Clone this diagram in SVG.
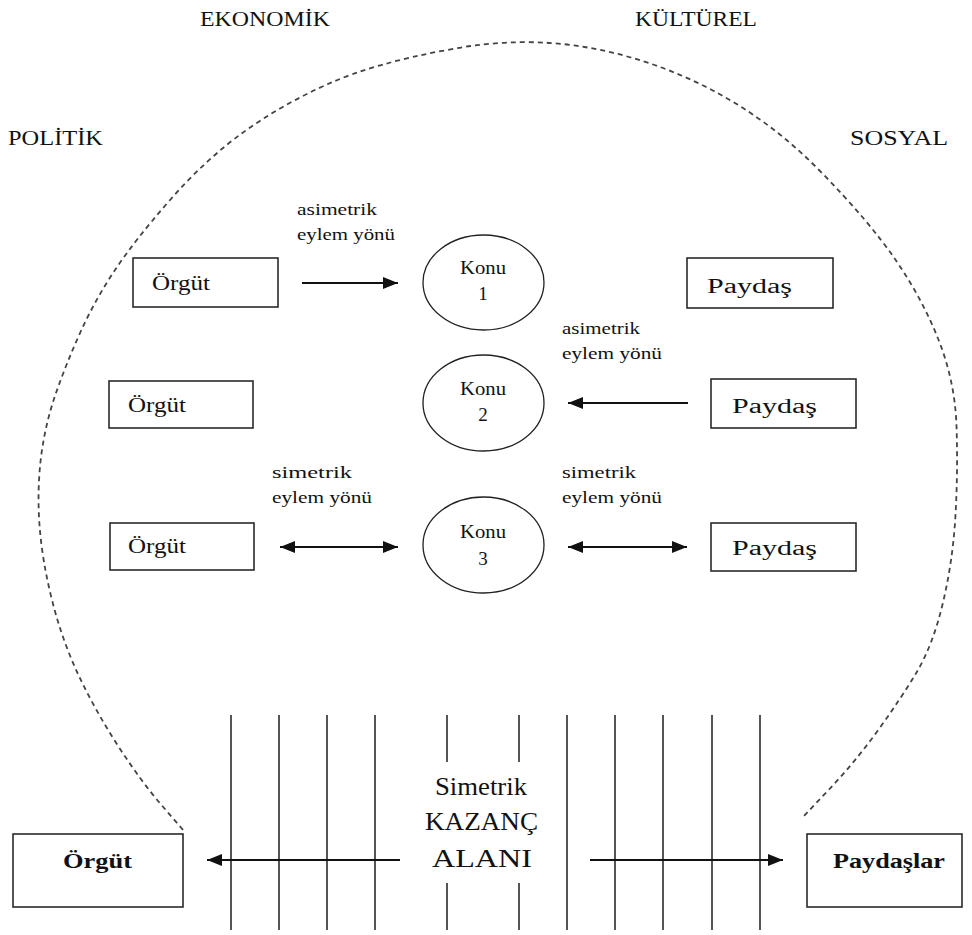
<svg xmlns="http://www.w3.org/2000/svg" width="972" height="935" viewBox="0 0 972 935">
  <style>
    text { font-family: "Liberation Serif", "Times New Roman", serif; fill: #111; }
    .dim { font-size: 21px; }
    .box { fill: #fff; stroke: #2a2a2a; stroke-width: 1.6; }
    .konu { fill: #fff; stroke: #222; stroke-width: 1.3; }
    .nm { font-size: 20px; }
    .lbl { font-size: 17px; }
    .kt { font-size: 19px; }
    .num { font-size: 19px; text-anchor: middle; }
    .bold { font-size: 22px; font-weight: bold; }
    .ctr { font-size: 25px; }
    .arr { stroke: #111; stroke-width: 2; fill: none; }
    .bar { stroke: #555; stroke-width: 2; }
    .env { fill: none; stroke: #444; stroke-width: 1.8; stroke-dasharray: 5 4; }
  </style>
  <defs>
    <marker id="ah" viewBox="0 0 15 12" refX="15" refY="6" markerWidth="15" markerHeight="12" markerUnits="userSpaceOnUse" orient="auto-start-reverse">
      <path d="M0,0 L15,6 L0,12 z" fill="#111"/>
    </marker>
  </defs>

  <rect width="972" height="935" fill="#fff"/>

  <!-- environment boundary -->
  <path class="env" d="M183,830 L161.5,805 Q140,780 117.5,745 Q95,710 78.5,675 Q62,640 52,600 Q42,560 39.5,525 Q37,490 41,457.5 Q45,425 55.5,394.5 Q66,364 80.5,332 Q95,300 115,270 Q135,240 170,200 Q205,160 243,132.5 Q281,105 328,84 Q375,63 447,50 Q519,36 584.5,47 Q650,58 710,89 Q770,120 819.5,170.5 Q869,221 896,260.5 Q923,300 939,341 Q955,382 956.5,426 Q958,470 955.5,515 Q953,560 943,602.5 Q933,645 916.5,672.5 Q900,700 877.5,731 Q855,762 829,789.5 L803,817"/>

  <!-- environment dimensions -->
  <g id="dimensions">
    <text class="dim" x="200" y="26" textLength="130" lengthAdjust="spacingAndGlyphs">EKONOMİK</text>
    <text class="dim" x="635" y="26" textLength="122" lengthAdjust="spacingAndGlyphs">KÜLTÜREL</text>
    <text class="dim" x="8" y="145" textLength="95" lengthAdjust="spacingAndGlyphs">POLİTİK</text>
    <text class="dim" x="850" y="145" textLength="98" lengthAdjust="spacingAndGlyphs">SOSYAL</text>
  </g>

  <!-- vertical bars of the gain zone -->
  <g id="gain-zone">
    <line class="bar" x1="231" y1="715" x2="231" y2="930"/>
    <line class="bar" x1="279" y1="715" x2="279" y2="930"/>
    <line class="bar" x1="327" y1="715" x2="327" y2="930"/>
    <line class="bar" x1="375" y1="715" x2="375" y2="930"/>
    <line class="bar" x1="447" y1="715" x2="447" y2="762"/>
    <line class="bar" x1="447" y1="883" x2="447" y2="930"/>
    <line class="bar" x1="519" y1="715" x2="519" y2="762"/>
    <line class="bar" x1="519" y1="883" x2="519" y2="930"/>
    <line class="bar" x1="567" y1="715" x2="567" y2="930"/>
    <line class="bar" x1="615" y1="715" x2="615" y2="930"/>
    <line class="bar" x1="663" y1="715" x2="663" y2="930"/>
    <line class="bar" x1="712" y1="715" x2="712" y2="930"/>
    <line class="bar" x1="760" y1="715" x2="760" y2="930"/>
    <text class="ctr" x="435" y="795" textLength="92" lengthAdjust="spacingAndGlyphs">Simetrik</text>
    <text class="ctr" x="425" y="830" textLength="113" lengthAdjust="spacingAndGlyphs">KAZANÇ</text>
    <text class="ctr" x="432" y="867" textLength="100" lengthAdjust="spacingAndGlyphs">ALANI</text>
  </g>

  <!-- connectors -->
  <g id="connectors">
    <line class="arr" x1="302" y1="283" x2="398" y2="283" marker-end="url(#ah)"/>
    <line class="arr" x1="688" y1="403" x2="568" y2="403" marker-end="url(#ah)"/>
    <line class="arr" x1="280" y1="547" x2="398" y2="547" marker-start="url(#ah)" marker-end="url(#ah)"/>
    <line class="arr" x1="568" y1="547" x2="687" y2="547" marker-start="url(#ah)" marker-end="url(#ah)"/>
    <line class="arr" x1="400" y1="860" x2="207" y2="860" marker-end="url(#ah)"/>
    <line class="arr" x1="590" y1="860" x2="783" y2="860" marker-end="url(#ah)"/>
    <text class="lbl" x="297" y="215" textLength="80" lengthAdjust="spacingAndGlyphs">asimetrik</text>
    <text class="lbl" x="297" y="240" textLength="98" lengthAdjust="spacingAndGlyphs">eylem yönü</text>
    <text class="lbl" x="562" y="334" textLength="78" lengthAdjust="spacingAndGlyphs">asimetrik</text>
    <text class="lbl" x="562" y="359" textLength="100" lengthAdjust="spacingAndGlyphs">eylem yönü</text>
    <text class="lbl" x="272" y="478" textLength="80" lengthAdjust="spacingAndGlyphs">simetrik</text>
    <text class="lbl" x="272" y="503" textLength="100" lengthAdjust="spacingAndGlyphs">eylem yönü</text>
    <text class="lbl" x="562" y="478" textLength="74" lengthAdjust="spacingAndGlyphs">simetrik</text>
    <text class="lbl" x="562" y="503" textLength="100" lengthAdjust="spacingAndGlyphs">eylem yönü</text>
  </g>

  <!-- organisations -->
  <g id="orgut-1">
    <rect class="box" x="133" y="258" width="145" height="49"/>
    <text class="nm" x="152" y="290" textLength="58" lengthAdjust="spacingAndGlyphs">Örgüt</text>
  </g>
  <g id="orgut-2">
    <rect class="box" x="109" y="381" width="144" height="47"/>
    <text class="nm" x="128" y="412" textLength="58" lengthAdjust="spacingAndGlyphs">Örgüt</text>
  </g>
  <g id="orgut-3">
    <rect class="box" x="110" y="523" width="144" height="47"/>
    <text class="nm" x="128" y="553" textLength="58" lengthAdjust="spacingAndGlyphs">Örgüt</text>
  </g>

  <!-- issues -->
  <g id="konu-1">
    <ellipse class="konu" cx="483.5" cy="282.5" rx="60.5" ry="47.5"/>
    <text class="kt" x="460" y="274" textLength="46" lengthAdjust="spacingAndGlyphs">Konu</text>
    <text class="num" x="483" y="300">1</text>
  </g>
  <g id="konu-2">
    <ellipse class="konu" cx="483.5" cy="403" rx="60.5" ry="48"/>
    <text class="kt" x="460" y="395" textLength="46" lengthAdjust="spacingAndGlyphs">Konu</text>
    <text class="num" x="483" y="421">2</text>
  </g>
  <g id="konu-3">
    <ellipse class="konu" cx="483.5" cy="545" rx="60.5" ry="48"/>
    <text class="kt" x="460" y="538" textLength="46" lengthAdjust="spacingAndGlyphs">Konu</text>
    <text class="num" x="483" y="565">3</text>
  </g>

  <!-- stakeholders -->
  <g id="paydas-1">
    <rect class="box" x="687" y="258" width="146" height="50"/>
    <text class="nm" x="707" y="293" textLength="85" lengthAdjust="spacingAndGlyphs">Paydaş</text>
  </g>
  <g id="paydas-2">
    <rect class="box" x="711" y="379" width="145" height="49"/>
    <text class="nm" x="732" y="413" textLength="85" lengthAdjust="spacingAndGlyphs">Paydaş</text>
  </g>
  <g id="paydas-3">
    <rect class="box" x="711" y="523" width="145" height="48"/>
    <text class="nm" x="732" y="555" textLength="85" lengthAdjust="spacingAndGlyphs">Paydaş</text>
  </g>

  <!-- parties of the gain zone -->
  <g id="orgut-main">
    <rect class="box" x="13" y="834" width="170" height="73"/>
    <text class="bold" x="63" y="868" textLength="69" lengthAdjust="spacingAndGlyphs">Örgüt</text>
  </g>
  <g id="paydaslar-main">
    <rect class="box" x="807" y="834" width="155" height="73"/>
    <text class="bold" x="833" y="868" textLength="112" lengthAdjust="spacingAndGlyphs">Paydaşlar</text>
  </g>
</svg>
